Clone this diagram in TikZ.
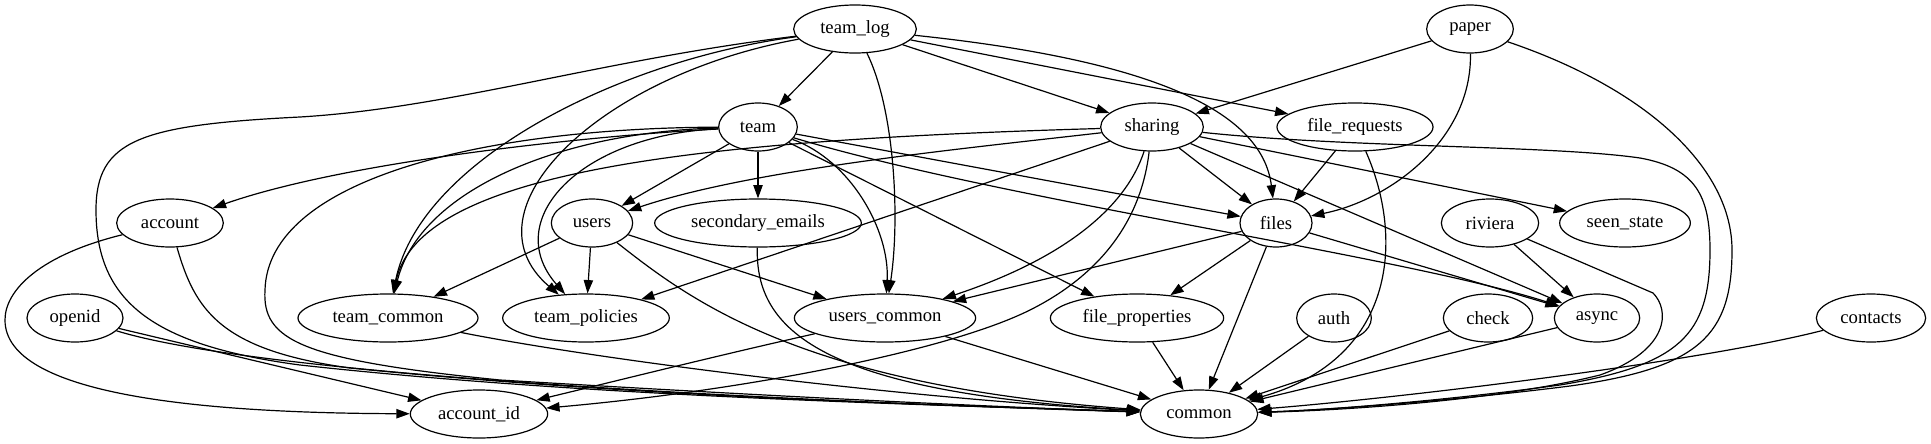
\documentclass[tikz,border=0pt]{standalone}
\usepackage{fontspec}
\setmainfont{Liberation Serif}
\newfontfamily\nodeserif{Liberation Serif}
\usetikzlibrary{arrows.meta,shapes.geometric}
\begin{document}
\begin{tikzpicture}[x=0.75pt,y=-0.75pt,
  nd/.style={draw, ellipse, line width=0.9pt, minimum height=36pt, inner sep=0pt,
    font=\nodeserif\fontsize{14pt}{16pt}\selectfont},
  ed/.style={-{Triangle[length=10pt,width=7pt]}, line width=0.9pt}]
\useasboundingbox (0,0) rectangle (1931,443);
% row 1
\node[nd, minimum width=92pt] (team_log) at (855,29) {team\_log};
\node[nd, minimum width=65pt] (paper) at (1470,29) {paper};
% row 2
\node[nd, minimum width=59pt] (team) at (758,127) {team};
\node[nd, minimum width=77pt] (sharing) at (1152,127) {sharing};
\node[nd, minimum width=117pt] (file_requests) at (1355,127) {file\_requests};
% row 3
\node[nd, minimum width=80pt] (account) at (170,223) {account};
\node[nd, minimum width=61pt] (users) at (592,223) {users};
\node[nd, minimum width=155pt] (secondary_emails) at (758,223) {secondary\_emails};
\node[nd, minimum width=54pt] (files) at (1276,223) {files};
\node[nd, minimum width=73pt] (riviera) at (1490,223) {riviera};
\node[nd, minimum width=98pt] (seen_state) at (1625,223) {seen\_state};
% row 4
\node[nd, minimum width=72pt] (openid) at (75,318) {openid};
\node[nd, minimum width=135pt] (team_common) at (388,318) {team\_common};
\node[nd, minimum width=125pt] (team_policies) at (586,318) {team\_policies};
\node[nd, minimum width=136pt] (users_common) at (885,318) {users\_common};
\node[nd, minimum width=130pt] (file_properties) at (1137,318) {file\_properties};
\node[nd, minimum width=56pt] (auth) at (1334,318) {auth};
\node[nd, minimum width=67pt] (check) at (1488,318) {check};
\node[nd, minimum width=64pt] (async) at (1597,318) {async};
\node[nd, minimum width=82pt] (contacts) at (1871,318) {contacts};
% row 5
\node[nd, minimum width=103pt] (account_id) at (479,414) {account\_id};
\node[nd, minimum width=88pt] (common) at (1199,414) {common};

% team_log
\draw[ed] (team_log) -- (team);
\draw[ed] (team_log) -- (sharing);
\draw[ed] (team_log) -- (file_requests);
\draw[ed] (team_log) .. controls (1150,60) and (1262,110) .. (files);
\draw[ed] (team_log) .. controls (895,110) and (900,220) .. (users_common);
\draw[ed] (team_log) .. controls (600,75) and (460,210) .. (team_policies);
\draw[ed] (team_log) .. controls (620,60) and (420,160) .. (team_common);
\draw[ed] (team_log) .. controls (600,60) and (450,108) .. (300,117)
  .. controls (140,125) and (96,140) .. (96,210)
  .. controls (96,300) and (150,345) .. (300,365)
  .. controls (600,398) and (950,405) .. (common);
% team
\draw[ed] (team) -- (users);
\draw[ed] (team) -- (secondary_emails);
\draw[ed] (team) .. controls (850,160) and (890,230) .. (users_common);
\draw[ed] (team) -- (file_properties);
\draw[ed] (team) -- (files);
\draw[ed] (team) .. controls (1000,200) and (1400,255) .. (async);
\draw[ed] (team) .. controls (600,135) and (350,160) .. (account);
\draw[ed] (team) .. controls (560,132) and (420,190) .. (team_common);
\draw[ed] (team) .. controls (580,135) and (500,220) .. (team_policies);
\draw[ed] (team) .. controls (480,128) and (268,180) .. (265,290)
  .. controls (262,340) and (300,360) .. (500,380)
  .. controls (800,398) and (1000,407) .. (common);
% sharing
\draw[ed] (sharing) -- (files);
\draw[ed] (sharing) -- (async);
\draw[ed] (sharing) -- (seen_state);
\draw[ed] (sharing) .. controls (1350,148) and (1550,145) .. (1640,158)
  .. controls (1695,168) and (1710,195) .. (1710,250)
  .. controls (1710,335) and (1680,365) .. (1560,385)
  .. controls (1450,400) and (1330,410) .. (common);
\draw[ed] (sharing) .. controls (1125,210) and (1060,260) .. (users_common);
\draw[ed] (sharing) .. controls (1140,230) and (1090,280) .. (1030,310)
  .. controls (950,350) and (750,390) .. (account_id);
\draw[ed] (sharing) .. controls (950,150) and (750,170) .. (users);
\draw[ed] (sharing) .. controls (700,140) and (420,170) .. (team_common);
\draw[ed] (sharing) -- (team_policies);
% paper
\draw[ed] (paper) -- (sharing);
\draw[ed] (paper) .. controls (1472,140) and (1390,200) .. (files);
\draw[ed] (paper) .. controls (1650,90) and (1732,170) .. (1732,250)
  .. controls (1732,335) and (1700,368) .. (1570,386)
  .. controls (1460,400) and (1330,410) .. (common);
% file_requests
\draw[ed] (file_requests) -- (files);
\draw[ed] (file_requests) .. controls (1405,240) and (1395,360) .. (common);
% files
\draw[ed] (files) -- (users_common);
\draw[ed] (files) -- (file_properties);
\draw[ed] (files) -- (common);
\draw[ed] (files) -- (async);
% riviera
\draw[ed] (riviera) -- (async);
\draw[ed] (riviera) -- (1653,293) .. controls (1670,310) and (1670,350) .. (1600,375)
  .. controls (1500,400) and (1350,410) .. (common);
% account
\draw[ed] (account) .. controls (40,255) and (5,290) .. (5,320)
  .. controls (5,395) and (200,413) .. (account_id);
\draw[ed] (account) .. controls (195,310) and (220,350) .. (350,368)
  .. controls (650,398) and (950,405) .. (common);
% openid
\draw[ed] (openid) -- (account_id);
\draw[ed] (openid) .. controls (250,372) and (700,398) .. (common);
% users
\draw[ed] (users) -- (team_common);
\draw[ed] (users) -- (team_policies);
\draw[ed] (users) -- (users_common);
\draw[ed] (users) .. controls (690,300) and (800,385) .. (common);
% others
\draw[ed] (secondary_emails) .. controls (755,330) and (820,392) .. (common);
\draw[ed] (team_common) .. controls (600,360) and (900,398) .. (common);
\draw[ed] (users_common) .. controls (720,355) and (620,380) .. (account_id);
\draw[ed] (users_common) -- (common);
\draw[ed] (file_properties) -- (common);
\draw[ed] (auth) -- (common);
\draw[ed] (check) -- (common);
\draw[ed] (async) -- (common);
\draw[ed] (contacts) .. controls (1700,362) and (1400,398) .. (common);
\end{tikzpicture}
\end{document}
